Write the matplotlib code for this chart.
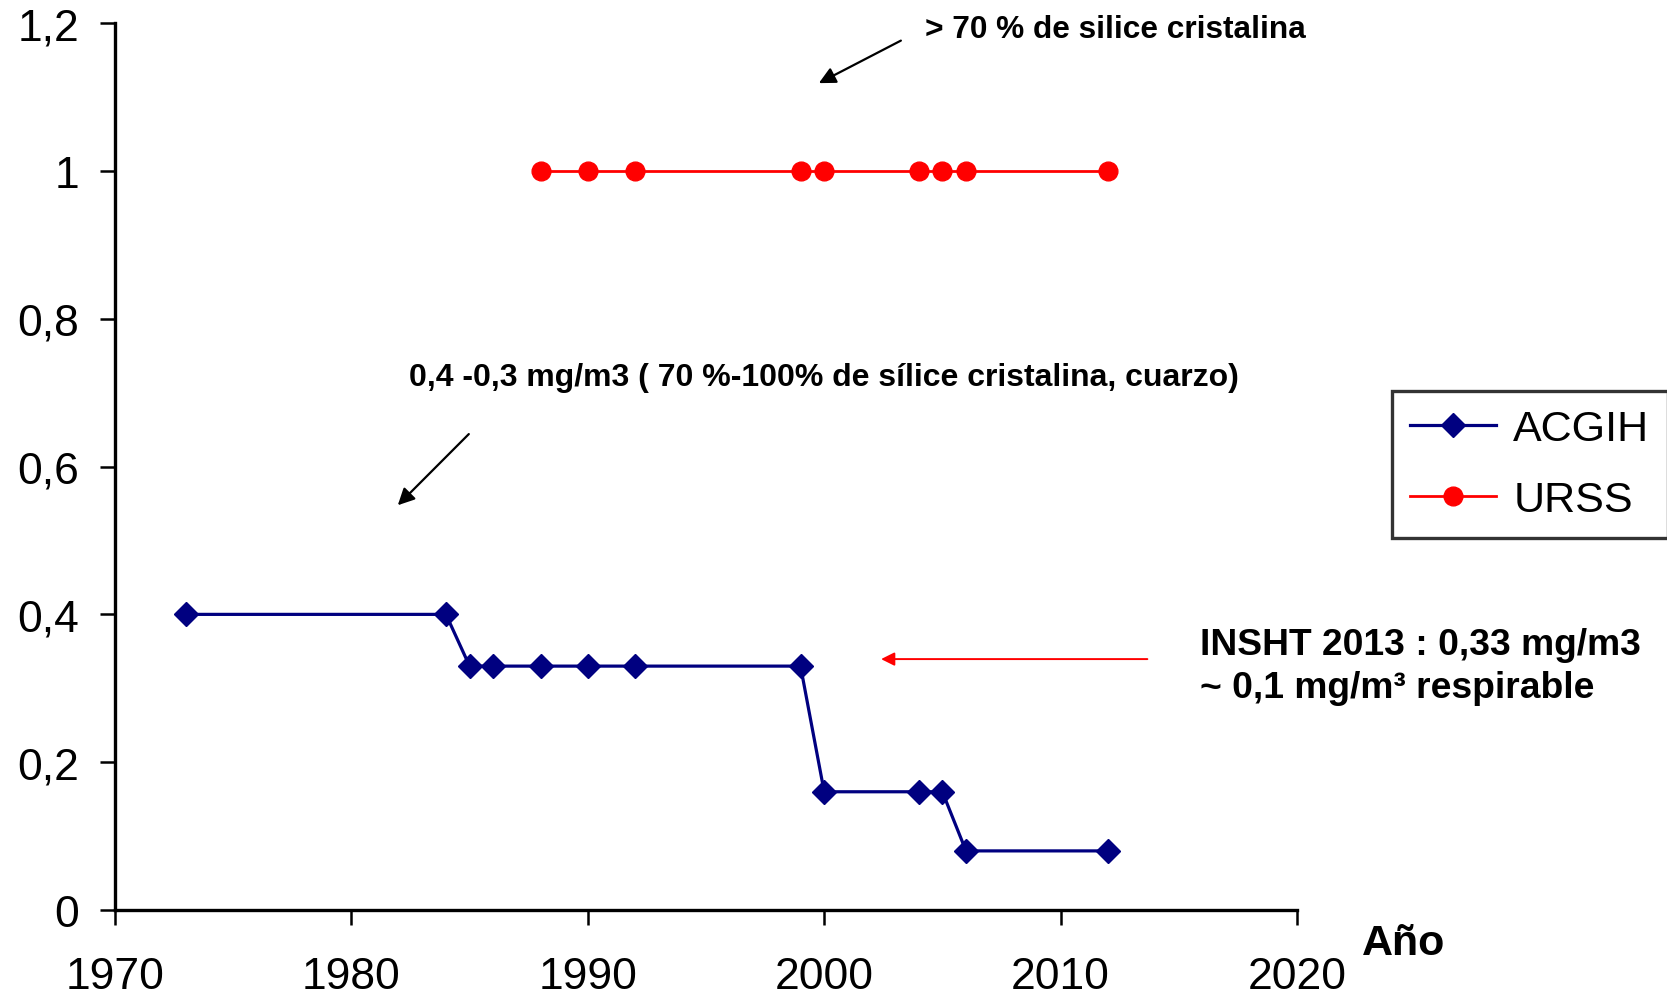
import matplotlib
matplotlib.use("Agg")
import matplotlib.pyplot as plt

plt.rcParams['font.family'] = ['Liberation Sans', 'DejaVu Sans']

# Data
acgih_years = [1973, 1984, 1985, 1986, 1988, 1990, 1992, 1999, 2000, 2004, 2005, 2006, 2012]
acgih_values = [0.4, 0.4, 0.33, 0.33, 0.33, 0.33, 0.33, 0.33, 0.16, 0.16, 0.16, 0.08, 0.08]
urss_years = [1988, 1990, 1992, 1999, 2000, 2004, 2005, 2006, 2012]
urss_values = [1, 1, 1, 1, 1, 1, 1, 1, 1]
x_ticks = [1970, 1980, 1990, 2000, 2010, 2020]
y_ticks = [0, 0.2, 0.4, 0.6, 0.8, 1.0, 1.2]
y_tick_labels = ["0", "0,2", "0,4", "0,6", "0,8", "1", "1,2"]

fig = plt.figure(figsize=(16.67, 10.03), dpi=100)
ax = fig.add_axes([0.069, 0.0917, 0.778 - 0.069, 0.976 - 0.0917])

ax.plot(acgih_years, acgih_values, color='#000080', lw=2.3, marker='D', ms=12,
        label='ACGIH', clip_on=False, zorder=3)
ax.plot(urss_years, urss_values, color='#FF0000', lw=2.0, marker='o', ms=13.5,
        label='URSS', clip_on=False, zorder=3)

ax.set_xlim(1970, 2020)
ax.set_ylim(0, 1.2)
ax.set_xticks(x_ticks)
ax.set_xticklabels([str(v) for v in x_ticks])
ax.set_yticks(y_ticks)
ax.set_yticklabels(y_tick_labels)

for s in ['top', 'right']:
    ax.spines[s].set_visible(False)
for s in ['left', 'bottom']:
    ax.spines[s].set_linewidth(2.4)
ax.tick_params(axis='both', direction='out', length=11, width=1.8, labelsize=32)
ax.tick_params(axis='y', pad=15)
ax.tick_params(axis='x', pad=22)

# Axis label "Año"
ax.text(2022.75, -0.045, 'Año', fontsize=31, fontweight='bold', ha='left', va='center',
        clip_on=False)

# Annotations
ax.annotate('', xy=(1999.67, 1.117), xytext=(2003.35, 1.178),
            arrowprops=dict(arrowstyle='-|>', color='black', lw=1.6, mutation_scale=25))
ax.text(2004.26, 1.192, '> 70 % de silice cristalina', fontsize=22.8, fontweight='bold',
        ha='left', va='center')

ax.text(1982.45, 0.721, '0,4 -0,3 mg/m3 ( 70 %-100% de sílice cristalina, cuarzo)',
        fontsize=23, fontweight='bold', ha='left', va='center')
ax.annotate('', xy=(1981.88, 0.545), xytext=(1985.05, 0.6466),
            arrowprops=dict(arrowstyle='-|>', color='black', lw=1.6, mutation_scale=25))

ax.annotate('', xy=(2002.29, 0.3395), xytext=(2013.79, 0.3395),
            arrowprops=dict(arrowstyle='-|>', color='red', lw=1.4, mutation_scale=20))
ax.text(2015.9, 0.359, 'INSHT 2013 : 0,33 mg/m3', fontsize=26.8, fontweight='bold',
        ha='left', va='center', clip_on=False)
ax.text(2015.9, 0.301, '~ 0,1 mg/m³ respirable', fontsize=26.8, fontweight='bold',
        ha='left', va='center', clip_on=False)

leg = fig.legend(loc='upper left', bbox_to_anchor=(0.835, 0.609), fontsize=31,
                 frameon=True, fancybox=False, edgecolor='black', borderaxespad=0,
                 handlelength=2.0, handletextpad=0.4, labelspacing=0.72, borderpad=0.42)
leg.get_frame().set_linewidth(2.4)

fig.savefig('out.png', dpi=100)
